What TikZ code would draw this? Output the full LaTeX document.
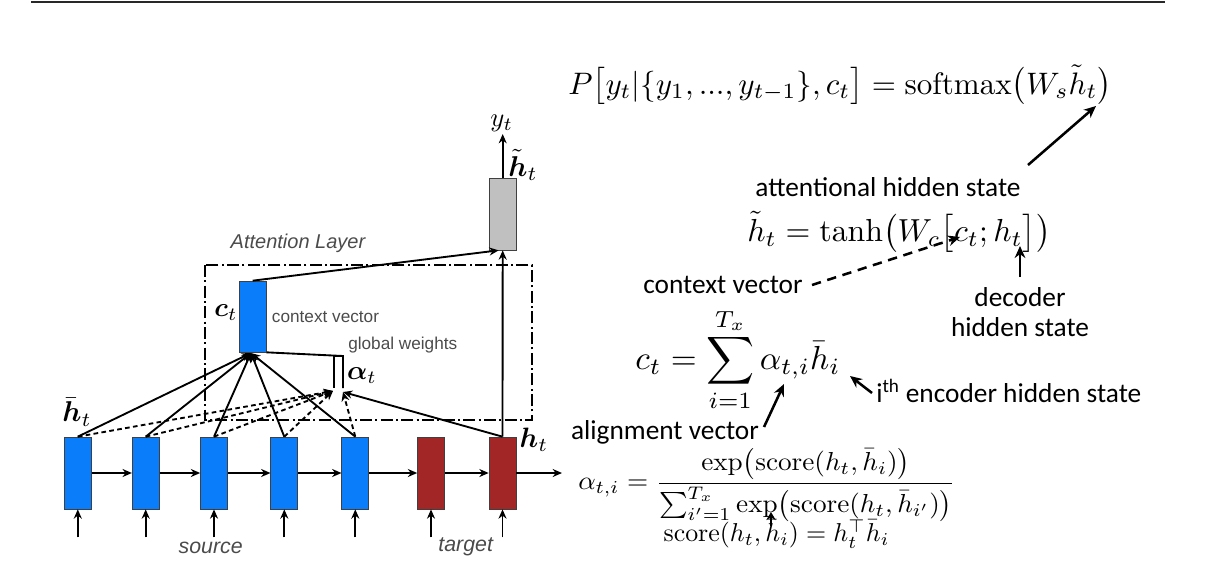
\documentclass[tikz,border=0pt]{standalone}
\usepackage{amsmath,bm}
\usepackage{graphicx}
\usepackage{fontspec}
\newfontfamily\calib{Carlito}
\newfontfamily\arialf{Liberation Sans}
\usetikzlibrary{arrows.meta}
\definecolor{encblue}{RGB}{10,125,250}
\definecolor{decred}{RGB}{163,38,38}
\definecolor{cellgray}{RGB}{192,192,192}
\definecolor{labgray}{RGB}{75,75,75}
\definecolor{rulegray}{RGB}{40,40,40}
\begin{document}
\begin{tikzpicture}[x=0.75pt,y=-0.75pt,
  cell/.style={draw=black!75,line width=0.5pt,minimum width=20.25pt,minimum height=54pt,inner sep=0pt},
  enc/.style={cell,fill=encblue},
  dec/.style={cell,fill=decred},
  conn/.style={line width=1.4pt,-{Stealth[length=7pt,width=6pt]}},
  dconn/.style={conn,dash pattern=on 3.5pt off 2.5pt},
  note/.style={line width=1.9pt,-{Stealth[length=9pt,width=8pt]}},
  dnote/.style={note,dash pattern=on 7pt off 5pt},
  dlab/.style={font=\arialf\fontsize{12.9}{15}\selectfont,text=labgray,inner sep=0pt},
  ilab/.style={font=\arialf\itshape\fontsize{16}{19}\selectfont,text=labgray,inner sep=0pt},
  clab/.style={font=\calib\fontsize{20.5}{24}\selectfont,inner sep=0pt},
  mlab/.style={inner sep=0pt},
  dashdot/.style={line width=1.4pt,dash pattern=on 9pt off 2.5pt on 1.5pt off 2.5pt}
]
\useasboundingbox (0,0) rectangle (1210,582);
\draw[line width=1.6pt,rulegray] (31,2) -- (1165,2);

% cells
\node[enc] (e1) at (77.8,473) {};
\node[enc] (e2) at (145.7,473) {};
\node[enc] (e3) at (214,473) {};
\node[enc] (e4) at (284.3,473) {};
\node[enc] (e5) at (355.3,473) {};
\node[dec] (d1) at (431,473) {};
\node[dec] (d2) at (502.5,473) {};
\node[enc,minimum height=53.25pt] (c) at (252.7,316.5) {};
\node[cell,fill=cellgray] (g) at (502.7,214) {};

% attention layer frame
\draw[dashdot] (205,265) rectangle (532,420);
\node[ilab,font=\arialf\itshape\fontsize{15}{18}\selectfont] (al) at (298,243) {Attention Layer};

% recurrent arrows
\foreach \a/\b in {e1/e2,e2/e3,e3/e4,e4/e5,e5/d1,d1/d2}
  \draw[conn] (\a.east) -- (\b.west);
\coordinate (out) at (562,473);
\draw[conn] (d2.east) -- (out);

% inputs
\foreach \n in {e1,e2,e3,e4,e5,d1,d2}{
  \coordinate (in\n) at ([yshift=-21pt]\n.south);
  \draw[conn] (in\n) -- (\n.south);
}
\node[ilab] (src) at (210.7,548) {source};
\node[ilab] (tgt) at (465.7,547) {target};

% attention weights
\coordinate (aL) at (333,391);
\coordinate (aR) at (343,392);
\coordinate (cb) at (251,353);
\foreach \n in {e1,e2,e3,e4}
  \draw[dconn] (\n.north) -- (aL);
\draw[dconn] (e5.north) -- (aR);
\draw[conn] (d2.north) -- (aR);
\foreach \n in {e1,e2,e3,e4,e5}
  \draw[conn] (\n.north) -- (cb);
\coordinate (bt) at (343,356);
\coordinate (bl) at (334,356);
\draw[line width=1.4pt] (c.south east) -- (bt) -- (343,388);
\draw[line width=1.4pt] (bl) -- (bt);
\draw[line width=1.4pt] (bl) -- (334,388);

% to attentional state
\draw[conn] (c.north) -- ([xshift=-3pt]g.south);
\draw[conn] (d2.north) -- (g.south);
\coordinate (yt) at (502.7,134);
\draw[conn] (g.north) -- (yt);

% diagram labels
\node[mlab] (lhb) at (77,412) {\scalebox{2.15}{$\bar{\bm{h}}_t$}};
\node[mlab] (lct) at (226,313) {\scalebox{2}{$\bm{c}_t$}};
\node[dlab,anchor=west] (lcv) at (271.7,316.7) {context vector};
\node[dlab,anchor=west] (lgw) at (348,345) {global weights};
\node[mlab] (lat) at (362,376) {\scalebox{2}{$\bm{\alpha}_t$}};
\node[mlab] (lht) at (534,440) {\scalebox{2.1}{$\bm{h}_t$}};
\node[mlab] (lyt) at (501.7,123) {\scalebox{2}{$y_t$}};
\node[mlab] (lhtt) at (523,165) {\scalebox{2.15}{$\tilde{\bm{h}}_t$}};

% right side formulas
\node[mlab] (pf) at (840,85) {\scalebox{2.33}{$P\bigl[y_t|\{y_1,...,y_{t-1}\},c_t\bigr] = \mathrm{softmax}\bigl(W_s\tilde{h}_t\bigr)$}};
\node[clab] (ahs) at (888,187) {attentional hidden state};
\node[mlab] (tf) at (899,232) {\scalebox{2.39}{$\tilde{h}_t = \tanh\bigl(W_c\bigl[c_t;h_t\bigr]\bigr)$}};
\node[clab] (cvl) at (723,285) {context vector};
\node[clab] (dec) at (1020,297) {decoder};
\node[clab] (dhs) at (1020,327) {hidden state};
\node[mlab] (cf) at (738,360) {\scalebox{2.5}{$c_t = \displaystyle\sum_{i=1}^{T_x}\alpha_{t,i}\bar{h}_i$}};
\node[clab] (alv) at (665,432) {alignment vector};
\node[clab,anchor=west] (ith) at (876,391) {i\textsuperscript{th} encoder hidden state};
\node[mlab] (af) at (767,485) {\scalebox{2.04}[1.95]{$\displaystyle\alpha_{t,i} = \frac{\exp\bigl(\mathrm{score}(h_t,\bar{h}_i)\bigr)}{\sum_{i'=1}^{T_x}\exp\bigl(\mathrm{score}(h_t,\bar{h}_{i'})\bigr)}$}};
\node[mlab] (sf) at (776.5,534) {\scalebox{1.94}{$\mathrm{score}(h_t,\bar{h}_i) = h_t^{\top}\bar{h}_i$}};

% annotation arrows
\coordinate (p1) at (1028,165); \coordinate (p2) at (1096,106);
\draw[note] (p1) -- (p2);
\coordinate (q1) at (812,285); \coordinate (q2) at (960,237);
\draw[dnote] (q1) -- (q2);
\coordinate (r1) at (1020,277); \coordinate (r2) at (1020,246);
\draw[note] (r1) -- (r2);
\coordinate (s1) at (764,427); \coordinate (s2) at (784,384);
\draw[note] (s1) -- (s2);
\coordinate (t1) at (872,393); \coordinate (t2) at (850,376);
\draw[note] (t1) -- (t2);
\coordinate (u1) at (771,526); \coordinate (u2) at (771,512);
\draw[note,-{Stealth[length=6pt,width=7pt]}] (u1) -- (u2);
\end{tikzpicture}
\end{document}
